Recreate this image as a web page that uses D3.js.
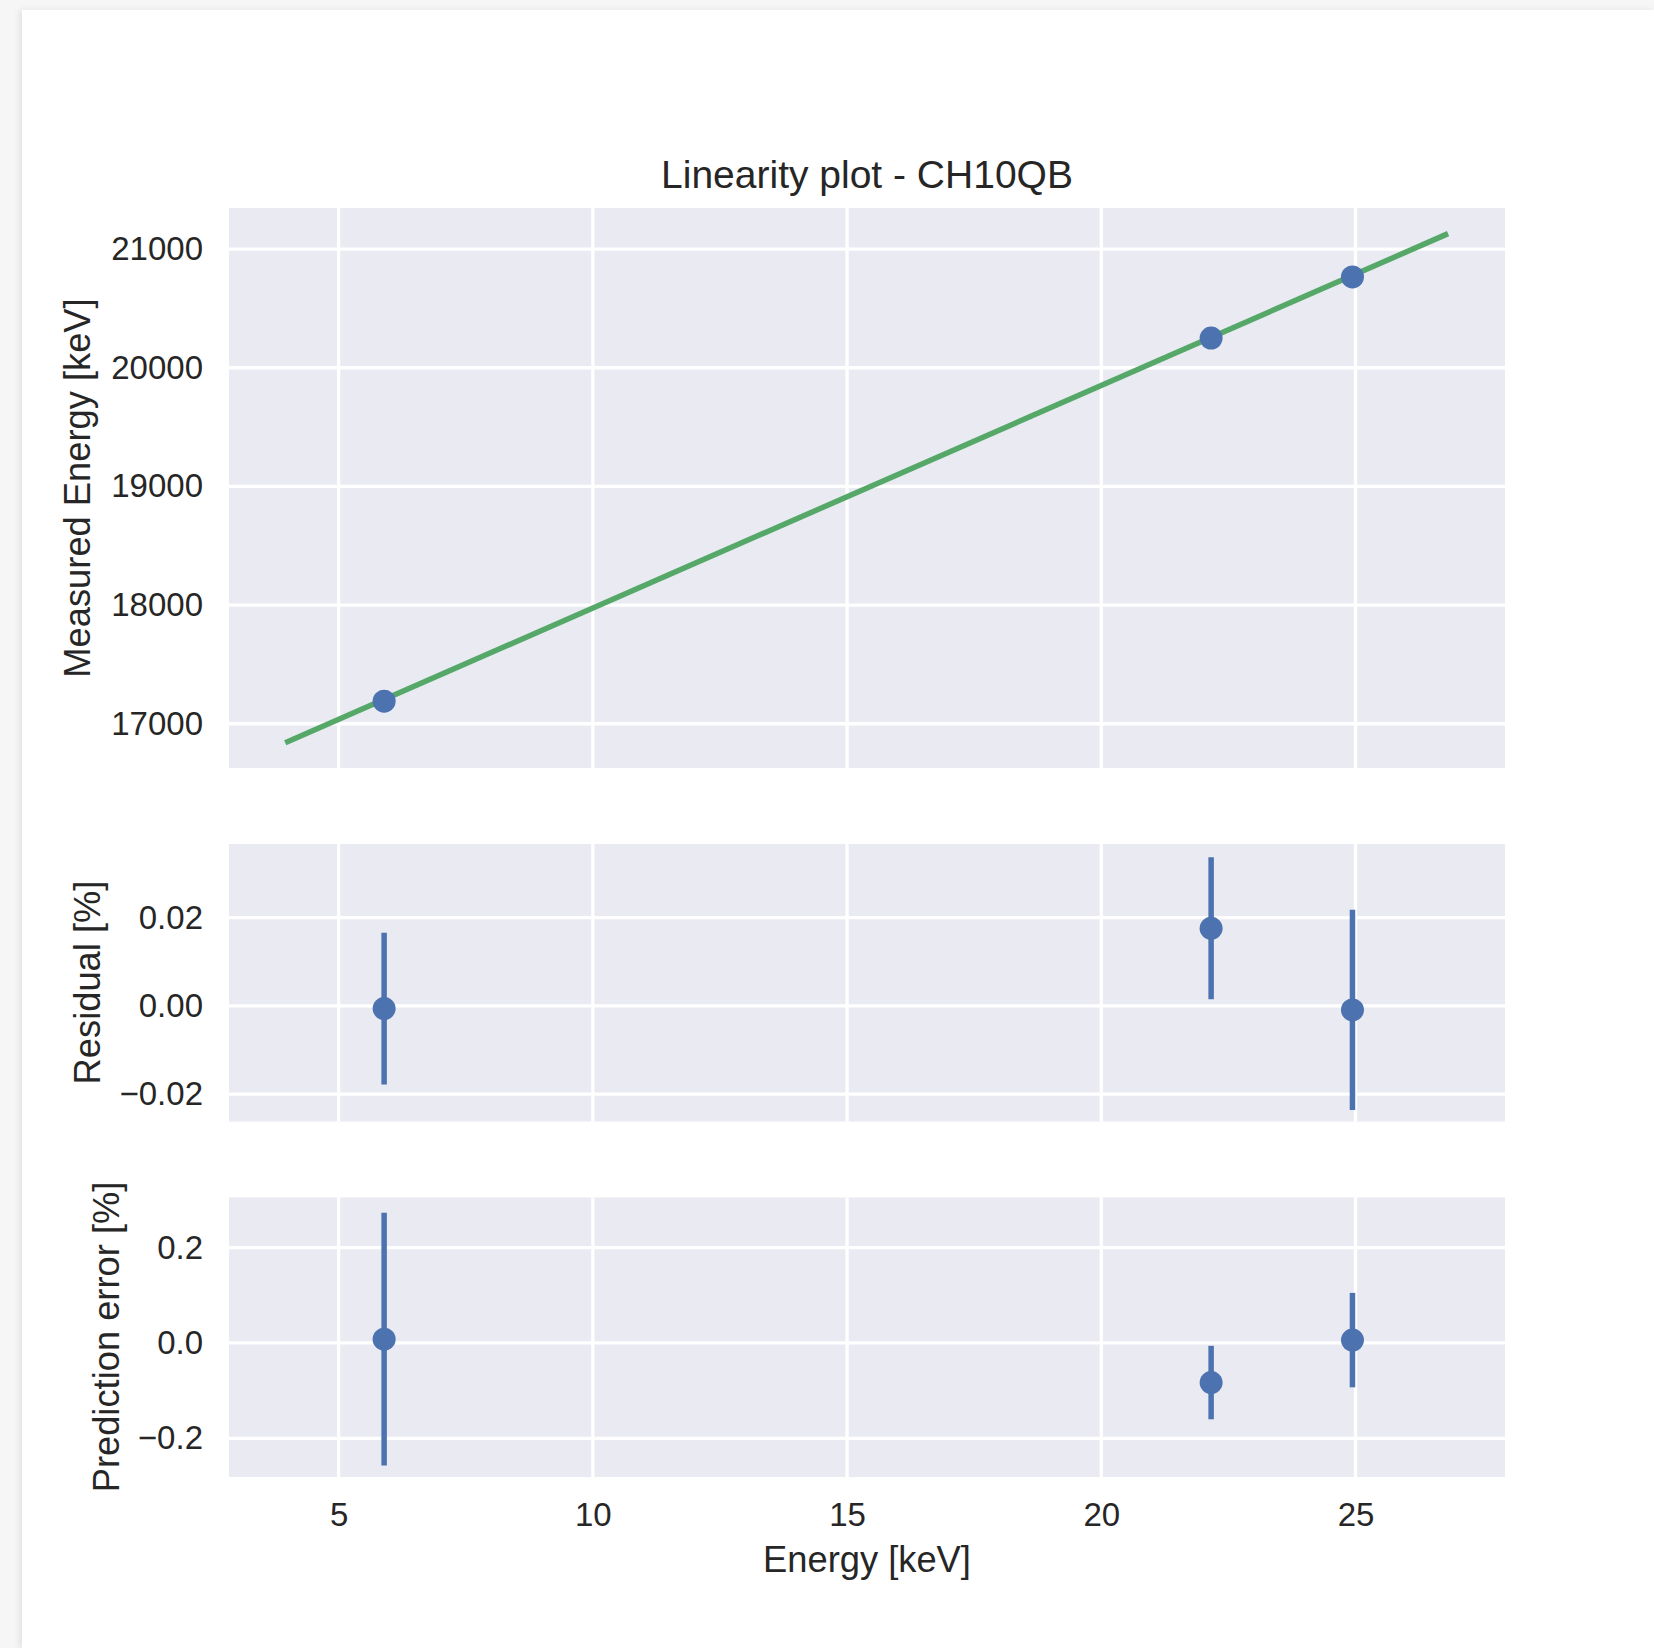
<!DOCTYPE html>
<html>
<head>
<meta charset="utf-8">
<script src="https://cdn.jsdelivr.net/npm/d3@7"></script>
<style>
  html, body { margin: 0; padding: 0; }
  body { width: 1654px; height: 1648px; background: #f6f6f6; overflow: hidden; position: relative; }
  #card { position: absolute; left: 22px; top: 10px; width: 1632px; height: 1638px; background: #fff;
          box-shadow: -3px 0 6px rgba(0,0,0,0.08); }
  svg { position: absolute; left: 0; top: 0; }
  text { font-family: "Liberation Sans", Arial, sans-serif; fill: #262626; }
</style>
</head>
<body>
<div id="card"></div>
<div id="chart"></div>
<script>
// Datos
const energies = [5.895, 22.16, 24.94];          // keV, lineas de calibracion
const measured = [17190, 20250, 20765];          // energia medida
const fitX = [3.95, 26.82];                      // extremos de la recta de ajuste
const fitY = [16840, 21130];
const residual = [-0.0006, 0.0176, -0.0009];     // %
const residualErr = [0.0172, 0.0161, 0.0227];
const predError = [0.008, -0.083, 0.006];        // %
const predErrorErr = [0.265, 0.077, 0.099];

const xTicks = [5, 10, 15, 20, 25];
const topTicks = [17000, 18000, 19000, 20000, 21000];
const midTicks = [-0.02, 0.00, 0.02];
const botTicks = [-0.2, 0.0, 0.2];

const width = 1654, height = 1648;
const left = 229, right = 1505;
const blue = '#4C72B0', green = '#55A868', bg = '#EAEAF2';
const tickFont = 33, labelFont = 36.3, titleFont = 39;

const svg = d3.select('#chart').append('svg')
  .attr('width', width)
  .attr('height', height);

const x = d3.scaleLinear().domain([2.844, 27.94]).range([left, right]);

const fmtMinus = f => v => f(v).replace('-', '\u2212');

function panel(top, bottom, domain, ticks, fmt) {
  const y = d3.scaleLinear().domain(domain).range([bottom, top]);
  const g = svg.append('g');
  g.append('rect')
    .attr('x', left).attr('y', top)
    .attr('width', right - left).attr('height', bottom - top)
    .attr('fill', bg);
  // rejilla
  g.selectAll('.vgrid').data(xTicks).enter().append('line')
    .attr('x1', d => x(d)).attr('x2', d => x(d))
    .attr('y1', top).attr('y2', bottom)
    .attr('stroke', '#fff').attr('stroke-width', 3.3);
  g.selectAll('.hgrid').data(ticks).enter().append('line')
    .attr('x1', left).attr('x2', right)
    .attr('y1', d => y(d)).attr('y2', d => y(d))
    .attr('stroke', '#fff').attr('stroke-width', 3.3);
  const axisY = d3.axisLeft(y).tickValues(ticks).tickSize(0).tickPadding(26).tickFormat(fmtMinus(fmt));
  const ax = g.append('g').attr('transform', `translate(${left},0)`).call(axisY);
  ax.select('.domain').remove();
  ax.selectAll('text').attr('font-size', tickFont).attr('fill', '#262626')
    .attr('font-family', '"Liberation Sans", Arial, sans-serif');
  return { g, y };
}

function errorPoints(p, xs, ys, errs) {
  p.g.selectAll('.eb').data(xs).enter().append('line')
    .attr('x1', d => x(d)).attr('x2', d => x(d))
    .attr('y1', (d, i) => p.y(ys[i] + errs[i]))
    .attr('y2', (d, i) => p.y(ys[i] - errs[i]))
    .attr('stroke', blue).attr('stroke-width', 5.5);
  p.g.selectAll('.pt').data(xs).enter().append('circle')
    .attr('cx', d => x(d)).attr('cy', (d, i) => p.y(ys[i]))
    .attr('r', 11.5).attr('fill', blue);
}

// Panel superior: linealidad
const p1 = panel(208, 768, [16627, 21346], topTicks, d3.format('d'));
const line = d3.line().x(d => x(d[0])).y(d => p1.y(d[1]));
p1.g.append('path')
  .attr('d', line(fitX.map((v, i) => [v, fitY[i]])))
  .attr('fill', 'none').attr('stroke', green).attr('stroke-width', 5.5);
p1.g.selectAll('.pt').data(energies).enter().append('circle')
  .attr('cx', d => x(d)).attr('cy', (d, i) => p1.y(measured[i]))
  .attr('r', 11.5).attr('fill', blue);

// Panel central: residuos
const p2 = panel(844, 1121.5, [-0.0262, 0.0367], midTicks, d3.format('.2f'));
errorPoints(p2, energies, residual, residualErr);

// Panel inferior: error de prediccion
const p3 = panel(1197.5, 1477, [-0.281, 0.305], botTicks, d3.format('.1f'));
errorPoints(p3, energies, predError, predErrorErr);

const axisX = d3.axisBottom(x).tickValues(xTicks).tickSize(0).tickPadding(26);
const axg = svg.append('g').attr('transform', 'translate(0,1477)').call(axisX);
axg.select('.domain').remove();
axg.selectAll('text').attr('font-size', tickFont).attr('fill', '#262626')
  .attr('font-family', '"Liberation Sans", Arial, sans-serif');

// Titulos
svg.append('text').attr('x', (left + right) / 2).attr('y', 188)
  .attr('text-anchor', 'middle').attr('font-size', titleFont)
  .text('Linearity plot - CH10QB');
svg.append('text').attr('x', (left + right) / 2).attr('y', 1572)
  .attr('text-anchor', 'middle').attr('font-size', labelFont)
  .text('Energy [keV]');

const ylabels = [
  { text: 'Measured Energy [keV]', x: 90, y: 488 },
  { text: 'Residual [%]', x: 100, y: 982.5 },
  { text: 'Prediction error [%]', x: 119, y: 1337 }
];
svg.selectAll('.ylabel').data(ylabels).enter().append('text')
  .attr('transform', d => `translate(${d.x},${d.y}) rotate(-90)`)
  .attr('text-anchor', 'middle').attr('font-size', labelFont)
  .text(d => d.text);
</script>
</body>
</html>
